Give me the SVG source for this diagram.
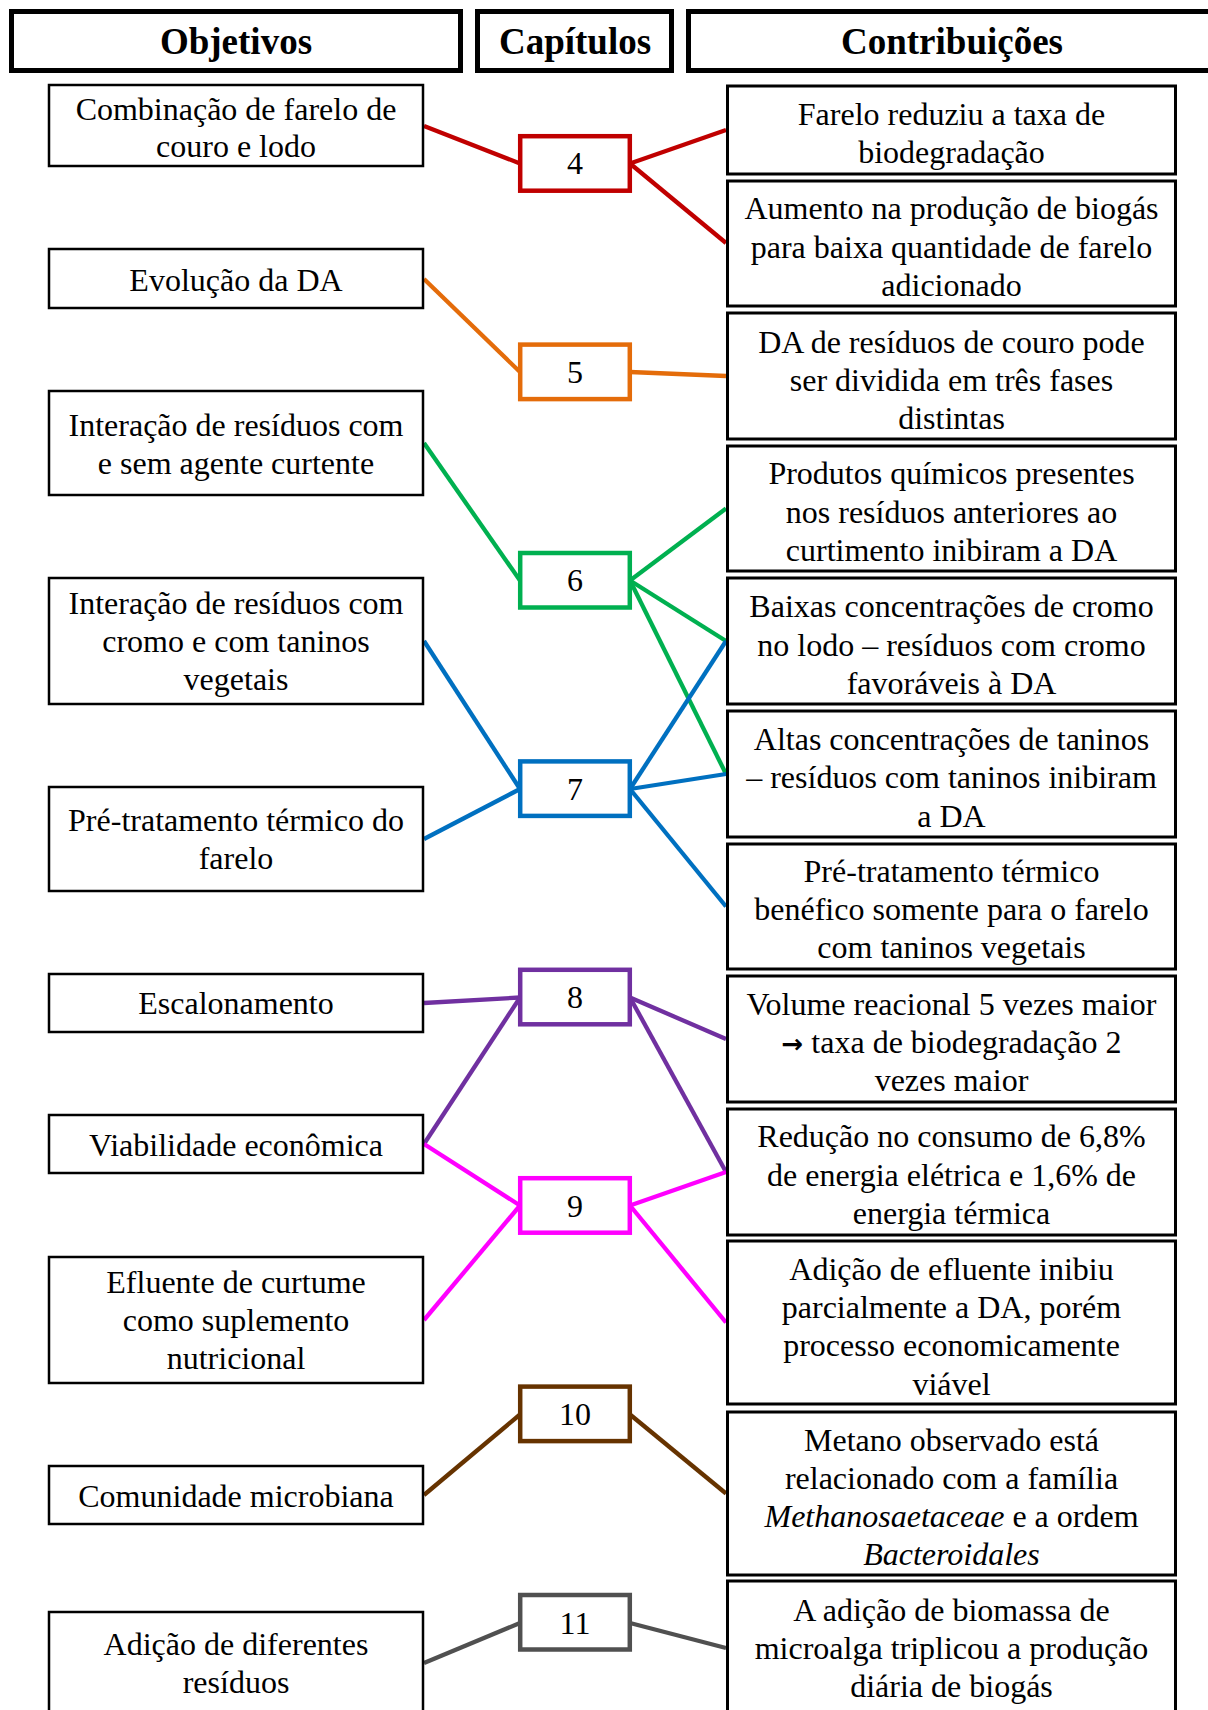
<svg xmlns="http://www.w3.org/2000/svg" width="1208" height="1710" viewBox="0 0 1208 1710">
<style>
.hdr{fill:#fff;stroke:#000;stroke-width:5}
.ht{font-family:"Liberation Serif","Times New Roman",serif;font-weight:bold;font-size:37px;text-anchor:middle;fill:#000}
.lb{fill:#fff;stroke:#000;stroke-width:2.5}
.rb{fill:#fff;stroke:#000;stroke-width:3}
.t{font-family:"Liberation Serif","Times New Roman",serif;font-size:32px;text-anchor:middle;fill:#000}
.ar{font-family:"DejaVu Sans",sans-serif;font-size:26px;font-weight:bold}
.cb{fill:#fff;stroke-width:4.5}
.ct{font-family:"Liberation Serif","Times New Roman",serif;font-size:32px;text-anchor:middle;fill:#000}
.cn{fill:none;stroke-width:4.3;stroke-linecap:butt}
.red{stroke:#C00000}.org{stroke:#E46C0A}.grn{stroke:#00B050}.blu{stroke:#0070C0}.pur{stroke:#7030A0}.mag{stroke:#FF00FF}.brn{stroke:#663300}.gry{stroke:#505050}
</style>
<rect x="0" y="0" width="1208" height="1710" fill="#fff"/>
<g id="headers">
<g id="h-objetivos"><rect class="hdr" x="11.5" y="11.5" width="449" height="59"/><text class="ht" x="236" y="54">Objetivos</text></g>
<g id="h-capitulos"><rect class="hdr" x="477.5" y="11.5" width="194" height="59"/><text class="ht" x="575" y="54">Capítulos</text></g>
<g id="h-contribuicoes"><rect class="hdr" x="688.5" y="11.5" width="540" height="59"/><text class="ht" x="952" y="54">Contribuições</text></g>
</g>
<g id="connectors">
<line class="cn red" x1="424" y1="126" x2="520" y2="163.5"/>
<line class="cn red" x1="630" y1="163.5" x2="726" y2="130"/>
<line class="cn red" x1="630" y1="163.5" x2="726" y2="243"/>
<line class="cn org" x1="424" y1="279" x2="520" y2="372"/>
<line class="cn org" x1="630" y1="372" x2="726" y2="376"/>
<line class="cn grn" x1="424" y1="443" x2="520" y2="580.5"/>
<line class="cn grn" x1="630" y1="580.5" x2="726" y2="508.5"/>
<line class="cn grn" x1="630" y1="580.5" x2="726" y2="641"/>
<line class="cn grn" x1="630" y1="580.5" x2="726" y2="774"/>
<line class="cn blu" x1="424" y1="641" x2="520" y2="789"/>
<line class="cn blu" x1="424" y1="839" x2="520" y2="789"/>
<line class="cn blu" x1="630" y1="789" x2="726" y2="641"/>
<line class="cn blu" x1="630" y1="789" x2="726" y2="774"/>
<line class="cn blu" x1="630" y1="789" x2="726" y2="906.5"/>
<line class="cn pur" x1="424" y1="1003" x2="520" y2="997.5"/>
<line class="cn pur" x1="424" y1="1144" x2="520" y2="997.5"/>
<line class="cn pur" x1="630" y1="997.5" x2="726" y2="1039"/>
<line class="cn pur" x1="630" y1="997.5" x2="726" y2="1172"/>
<line class="cn mag" x1="424" y1="1144" x2="520" y2="1205.5"/>
<line class="cn mag" x1="424" y1="1320" x2="520" y2="1205.5"/>
<line class="cn mag" x1="630" y1="1205.5" x2="726" y2="1172"/>
<line class="cn mag" x1="630" y1="1205.5" x2="726" y2="1322.5"/>
<line class="cn brn" x1="424" y1="1495" x2="520" y2="1414.5"/>
<line class="cn brn" x1="630" y1="1414.5" x2="726" y2="1493.5"/>
<line class="cn gry" x1="424" y1="1663" x2="520" y2="1623"/>
<line class="cn gry" x1="630" y1="1623" x2="726" y2="1648"/>
</g>
<g id="objetivos">
<g id="o1"><rect class="lb" x="49" y="85" width="374" height="81"/><text class="t" x="236" y="119.5">Combinação de farelo de</text><text class="t" x="236" y="157">couro e lodo</text></g>
<g id="o2"><rect class="lb" x="49" y="249" width="374" height="59"/><text class="t" x="236" y="291">Evolução da DA</text></g>
<g id="o3"><rect class="lb" x="49" y="391" width="374" height="104"/><text class="t" x="236" y="436">Interação de resíduos com</text><text class="t" x="236" y="474">e sem agente curtente</text></g>
<g id="o4"><rect class="lb" x="49" y="578" width="374" height="126"/><text class="t" x="236" y="614.3">Interação de resíduos com</text><text class="t" x="236" y="652.3">cromo e com taninos</text><text class="t" x="236" y="689.5">vegetais</text></g>
<g id="o5"><rect class="lb" x="49" y="787" width="374" height="104"/><text class="t" x="236" y="830.7">Pré-tratamento térmico do</text><text class="t" x="236" y="868.5">farelo</text></g>
<g id="o6"><rect class="lb" x="49" y="974" width="374" height="58"/><text class="t" x="236" y="1014.3">Escalonamento</text></g>
<g id="o7"><rect class="lb" x="49" y="1115" width="374" height="58"/><text class="t" x="236" y="1155.5">Viabilidade econômica</text></g>
<g id="o8"><rect class="lb" x="49" y="1257" width="374" height="126"/><text class="t" x="236" y="1293">Efluente de curtume</text><text class="t" x="236" y="1331">como suplemento</text><text class="t" x="236" y="1369">nutricional</text></g>
<g id="o9"><rect class="lb" x="49" y="1466" width="374" height="58"/><text class="t" x="236" y="1506.5">Comunidade microbiana</text></g>
<g id="o10"><rect class="lb" x="49" y="1612" width="374" height="120"/><text class="t" x="236" y="1655">Adição de diferentes</text><text class="t" x="236" y="1693">resíduos</text></g>
</g>
<g id="capitulos">
<g id="c4"><rect class="cb red" x="520.2" y="136.2" width="109.6" height="54.5"/><text class="ct" x="575" y="174">4</text></g>
<g id="c5"><rect class="cb org" x="520.2" y="344.6" width="109.6" height="54.5"/><text class="ct" x="575" y="382.5">5</text></g>
<g id="c6"><rect class="cb grn" x="520.2" y="553" width="109.6" height="54.5"/><text class="ct" x="575" y="591">6</text></g>
<g id="c7"><rect class="cb blu" x="520.2" y="761.4" width="109.6" height="54.5"/><text class="ct" x="575" y="799.5">7</text></g>
<g id="c8"><rect class="cb pur" x="520.2" y="969.8" width="109.6" height="54.5"/><text class="ct" x="575" y="1008">8</text></g>
<g id="c9"><rect class="cb mag" x="520.2" y="1178.2" width="109.6" height="54.5"/><text class="ct" x="575" y="1216.5">9</text></g>
<g id="c10"><rect class="cb brn" x="520.2" y="1386.6" width="109.6" height="54.5"/><text class="ct" x="575" y="1425">10</text></g>
<g id="c11"><rect class="cb gry" x="520.2" y="1595" width="109.6" height="54.5"/><text class="ct" x="575" y="1633.5">11</text></g>
</g>
<g id="contribuicoes">
<g id="r1"><rect class="rb" x="727.5" y="86" width="448" height="88"/><text class="t" x="951.5" y="124.5">Farelo reduziu a taxa de</text><text class="t" x="951.5" y="162.7">biodegradação</text></g>
<g id="r2"><rect class="rb" x="727.5" y="181" width="448" height="125"/><text class="t" x="951.5" y="219">Aumento na produção de biogás</text><text class="t" x="951.5" y="257.5">para baixa quantidade de farelo</text><text class="t" x="951.5" y="295.7">adicionado</text></g>
<g id="r3"><rect class="rb" x="727.5" y="313" width="448" height="126"/><text class="t" x="951.5" y="353.3">DA de resíduos de couro pode</text><text class="t" x="951.5" y="391">ser dividida em três fases</text><text class="t" x="951.5" y="428.5">distintas</text></g>
<g id="r4"><rect class="rb" x="727.5" y="446" width="448" height="125"/><text class="t" x="951.5" y="484.3">Produtos químicos presentes</text><text class="t" x="951.5" y="522.7">nos resíduos anteriores ao</text><text class="t" x="951.5" y="561">curtimento inibiram a DA</text></g>
<g id="r5"><rect class="rb" x="727.5" y="578" width="448" height="126"/><text class="t" x="951.5" y="617.3">Baixas concentrações de cromo</text><text class="t" x="951.5" y="656">no lodo – resíduos com cromo</text><text class="t" x="951.5" y="694.3">favoráveis à DA</text></g>
<g id="r6"><rect class="rb" x="727.5" y="711" width="448" height="126"/><text class="t" x="951.5" y="750">Altas concentrações de taninos</text><text class="t" x="951.5" y="788.3">– resíduos com taninos inibiram</text><text class="t" x="951.5" y="826.5">a DA</text></g>
<g id="r7"><rect class="rb" x="727.5" y="844" width="448" height="125"/><text class="t" x="951.5" y="881.7">Pré-tratamento térmico</text><text class="t" x="951.5" y="920">benéfico somente para o farelo</text><text class="t" x="951.5" y="958.3">com taninos vegetais</text></g>
<g id="r8"><rect class="rb" x="727.5" y="976" width="448" height="126"/><text class="t" x="951.5" y="1015">Volume reacional 5 vezes maior</text><text class="t" x="951.5" y="1053.3"><tspan class="ar">→</tspan> taxa de biodegradação 2</text><text class="t" x="951.5" y="1091.3">vezes maior</text></g>
<g id="r9"><rect class="rb" x="727.5" y="1109" width="448" height="126"/><text class="t" x="951.5" y="1147">Redução no consumo de 6,8%</text><text class="t" x="951.5" y="1185.5">de energia elétrica e 1,6% de</text><text class="t" x="951.5" y="1223.5">energia térmica</text></g>
<g id="r10"><rect class="rb" x="727.5" y="1241" width="448" height="163"/><text class="t" x="951.5" y="1280.4">Adição de efluente inibiu</text><text class="t" x="951.5" y="1318">parcialmente a DA, porém</text><text class="t" x="951.5" y="1356.4">processo economicamente</text><text class="t" x="951.5" y="1394.6">viável</text></g>
<g id="r11"><rect class="rb" x="727.5" y="1412" width="448" height="163"/><text class="t" x="951.5" y="1451">Metano observado está</text><text class="t" x="951.5" y="1489">relacionado com a família</text><text class="t" x="951.5" y="1527"><tspan font-style="italic">Methanosaetaceae</tspan> e a ordem</text><text class="t" x="951.5" y="1565" font-style="italic">Bacteroidales</text></g>
<g id="r12"><rect class="rb" x="727.5" y="1581" width="448" height="150"/><text class="t" x="951.5" y="1620.7">A adição de biomassa de</text><text class="t" x="951.5" y="1659">microalga triplicou a produção</text><text class="t" x="951.5" y="1697">diária de biogás</text></g>
</g>
</svg>
